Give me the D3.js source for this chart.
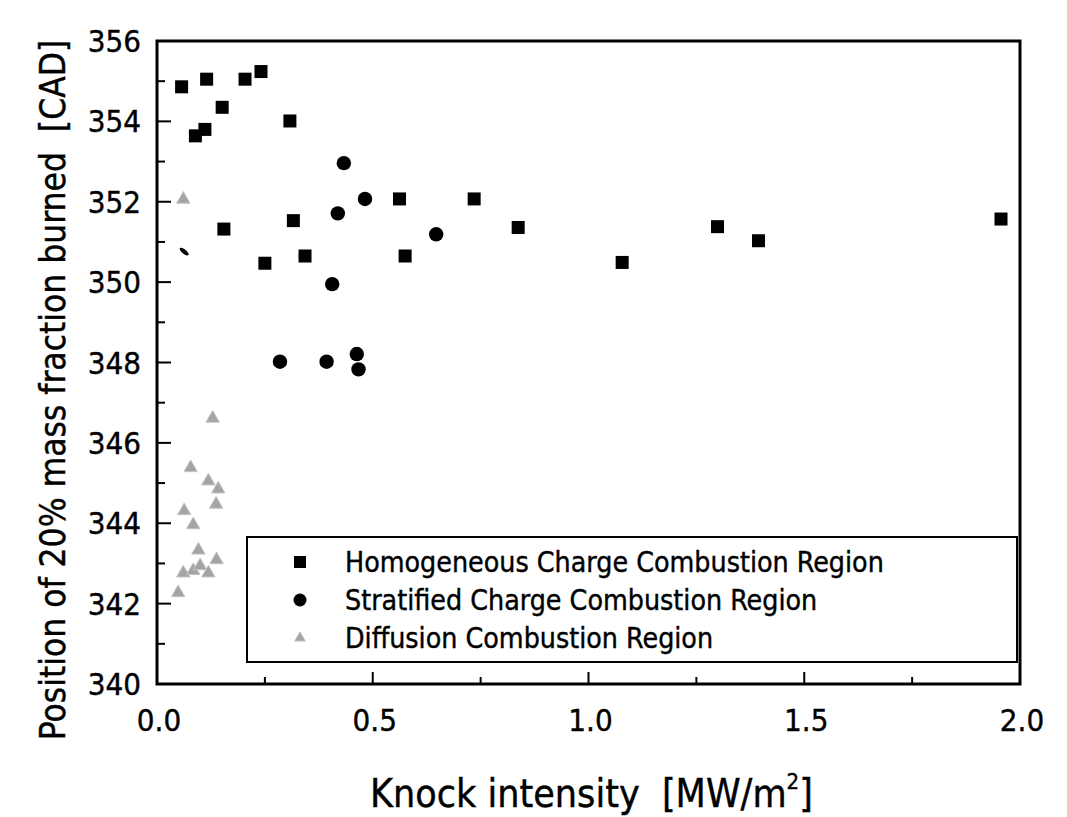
<!DOCTYPE html>
<html>
<head>
<meta charset="utf-8">
<script src="https://cdn.jsdelivr.net/npm/d3@7"></script>
<style>
  html, body { margin: 0; padding: 0; background: #fff; }
  svg { display: block; }
  text { font-family: "DejaVu Sans Condensed", "DejaVu Sans", sans-serif; fill: #000; stroke: #000; stroke-width: 0.4px; white-space: pre; }
</style>
</head>
<body>
<svg id="chart" width="1067" height="817"></svg>
<script>
// ---- Data ----
const homogeneousX = [0.057, 0.115, 0.204, 0.241, 0.151, 0.111, 0.089, 0.308, 0.155, 0.316, 0.250, 0.343, 0.562, 0.735, 0.575, 0.837, 1.078, 1.299, 1.394, 1.956];
const homogeneousY = [354.86, 355.05, 355.05, 355.24, 354.35, 353.80, 353.64, 354.01, 351.32, 351.53, 350.47, 350.65, 352.07, 352.07, 350.65, 351.36, 350.49, 351.38, 351.03, 351.57];

const stratifiedX = [0.433, 0.482, 0.419, 0.647, 0.406, 0.285, 0.393, 0.463, 0.467];
const stratifiedY = [352.96, 352.07, 351.71, 351.19, 349.95, 348.02, 348.02, 348.21, 347.83];

const diffusionX = [0.061, 0.129, 0.078, 0.119, 0.142, 0.137, 0.063, 0.084, 0.096, 0.138, 0.061, 0.084, 0.100, 0.119, 0.049];
const diffusionY = [352.06, 346.61, 345.38, 345.05, 344.85, 344.47, 344.31, 343.96, 343.33, 343.09, 342.76, 342.82, 342.94, 342.76, 342.27];

// stray partial mark visible in the scan
const strayX = [0.063];
const strayY = [350.76];

const xTicks = [0.0, 0.5, 1.0, 1.5, 2.0];
const xMinorTicks = [0.25, 0.75, 1.25, 1.75];
const yTicks = [340, 342, 344, 346, 348, 350, 352, 354, 356];
const yMinorTicks = [341, 343, 345, 347, 349, 351, 353, 355];

const legendLabels = ["Homogeneous Charge Combustion Region", "Stratified Charge Combustion Region", "Diffusion Combustion Region"];
const xTitle = "Knock intensity  [MW/m";
const yTitle = "Position of 20% mass fraction burned  [CAD]";

// ---- Layout ----
const svg = d3.select("#chart");
const pLeft = 157, pRight = 1020, pTop = 41, pBottom = 684;

const x = d3.scaleLinear().domain([0, 2]).range([pLeft, pRight]);
const y = d3.scaleLinear().domain([340, 356]).range([pBottom, pTop]);

// ticks (inward)
const g = svg.append("g");
g.selectAll(".xmaj").data(xTicks).join("line")
  .attr("x1", d => x(d)).attr("x2", d => x(d))
  .attr("y1", pBottom).attr("y2", pBottom - 12)
  .attr("stroke", "#000").attr("stroke-width", 2);
g.selectAll(".xmin").data(xMinorTicks).join("line")
  .attr("x1", d => x(d)).attr("x2", d => x(d))
  .attr("y1", pBottom).attr("y2", pBottom - 7)
  .attr("stroke", "#000").attr("stroke-width", 2);
g.selectAll(".ymaj").data(yTicks).join("line")
  .attr("x1", pLeft).attr("x2", pLeft + 14)
  .attr("y1", d => y(d)).attr("y2", d => y(d))
  .attr("stroke", "#000").attr("stroke-width", 2);
g.selectAll(".ymin").data(yMinorTicks).join("line")
  .attr("x1", pLeft).attr("x2", pLeft + 8)
  .attr("y1", d => y(d)).attr("y2", d => y(d))
  .attr("stroke", "#000").attr("stroke-width", 2);

// frame
svg.append("rect")
  .attr("x", pLeft).attr("y", pTop)
  .attr("width", pRight - pLeft).attr("height", pBottom - pTop)
  .attr("fill", "none").attr("stroke", "#000").attr("stroke-width", 3);

// tick labels
svg.selectAll(".xl").data(xTicks).join("text")
  .attr("x", d => x(d) + 2).attr("y", 731)
  .attr("text-anchor", "middle")
  .attr("font-size", 31)
  .text(d => d.toFixed(1));
svg.selectAll(".yl").data(yTicks).join("text")
  .attr("x", 141).attr("y", d => y(d) + 11)
  .attr("text-anchor", "end")
  .attr("font-size", 31)
  .text(d => d);

// axis titles
const xt = svg.append("text")
  .attr("x", x(1) + 3).attr("y", 807)
  .attr("text-anchor", "middle")
  .attr("font-size", 39);
xt.append("tspan").text(xTitle);
xt.append("tspan").attr("font-size", 22).attr("dy", -18).text("2");
xt.append("tspan").attr("dy", 18).text("]");

svg.append("text")
  .attr("transform", `translate(65, 390) rotate(-90)`)
  .attr("text-anchor", "middle")
  .attr("font-size", 35)
  .text(yTitle);

// marks
const triPath = d3.symbol().type(d3.symbolTriangle).size(78)();
const sqSize = 13;

svg.selectAll(".tri").data(diffusionX.map((d, i) => [d, diffusionY[i]])).join("path")
  .attr("d", triPath)
  .attr("transform", d => `translate(${x(d[0])},${y(d[1])})`)
  .attr("fill", "#a4a4a4").attr("stroke", "#c4c4c4").attr("stroke-width", 1);

svg.selectAll(".sq").data(homogeneousX.map((d, i) => [d, homogeneousY[i]])).join("rect")
  .attr("x", d => x(d[0]) - sqSize / 2).attr("y", d => y(d[1]) - sqSize / 2)
  .attr("width", sqSize).attr("height", sqSize)
  .attr("fill", "#000");

svg.selectAll(".ci").data(stratifiedX.map((d, i) => [d, stratifiedY[i]])).join("circle")
  .attr("cx", d => x(d[0])).attr("cy", d => y(d[1])).attr("r", 7.2)
  .attr("fill", "#000");

svg.selectAll(".stray").data(strayX.map((d, i) => [d, strayY[i]])).join("ellipse")
  .attr("transform", d => `translate(${x(d[0])},${y(d[1])}) rotate(40)`)
  .attr("rx", 5.5).attr("ry", 2.2).attr("fill", "#000");

// legend
const lg = svg.append("g");
lg.append("rect")
  .attr("x", 247).attr("y", 537).attr("width", 770).attr("height", 125)
  .attr("fill", "#fff").attr("stroke", "#000").attr("stroke-width", 2);
const rows = [562, 600, 638];
lg.append("rect").attr("x", 300 - 6).attr("y", rows[0] - 6).attr("width", 12).attr("height", 12).attr("fill", "#000");
lg.append("circle").attr("cx", 300).attr("cy", rows[1]).attr("r", 6.5).attr("fill", "#000");
lg.append("path").attr("d", d3.symbol().type(d3.symbolTriangle).size(50)())
  .attr("transform", `translate(300,${rows[2]})`)
  .attr("fill", "#a4a4a4").attr("stroke", "#c4c4c4").attr("stroke-width", 1);
lg.selectAll(".lt").data(legendLabels).join("text")
  .attr("x", 345).attr("y", (d, i) => rows[i] + 10)
  .attr("font-size", 28.3)
  .text(d => d);
</script>
</body>
</html>
